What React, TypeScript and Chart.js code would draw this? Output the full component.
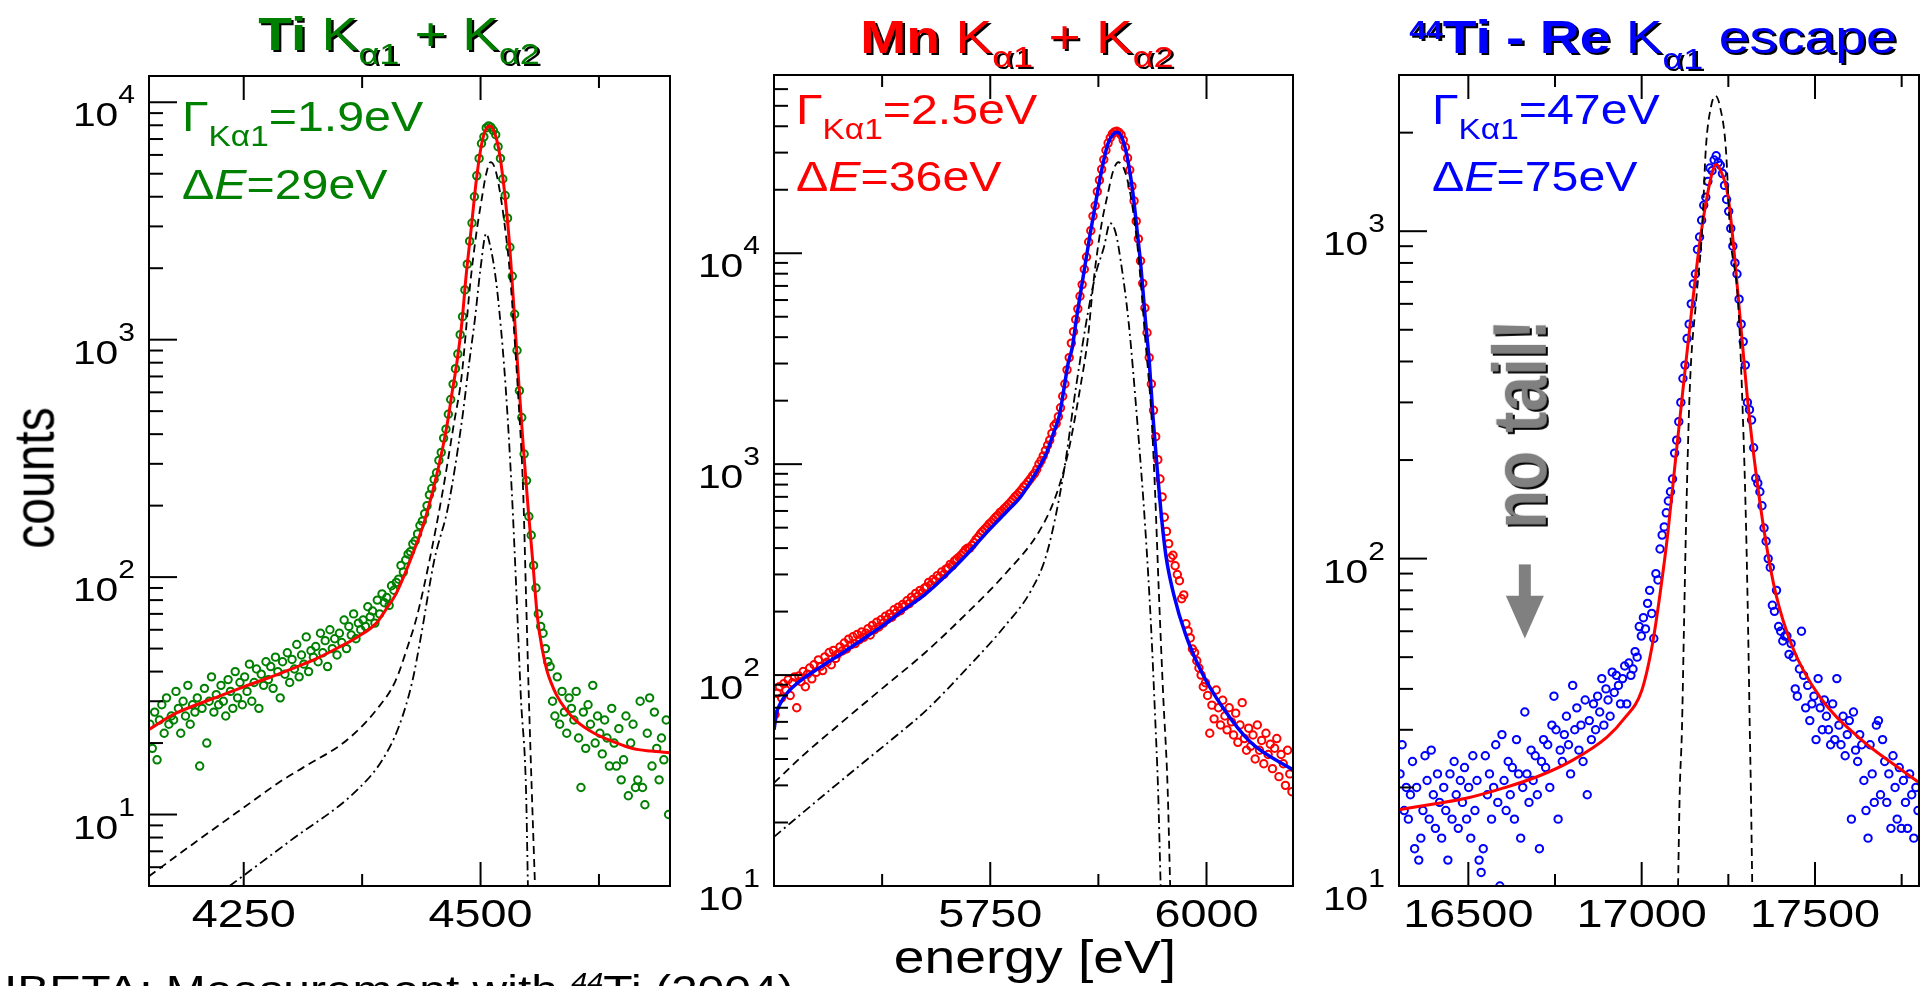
import React, { useEffect, useRef } from 'react';
import { Chart, registerables } from 'chart.js';

Chart.register(...registerables);

const PAGE_W = 1927;
const PAGE_H = 986;
const FONT = '"Liberation Sans", Arial, Helvetica, sans-serif';
const SX = 1.2; // the original figure is horizontally stretched

const TI_COLOR = 'rgb(0,128,0)';
const MN_COLOR = '#ff0000';
const RE_COLOR = '#0000ff';

// ---------------- Panel 1 : Ti K-alpha ----------------
const TI_BIN_START = 4151;
const TI_BIN_WIDTH = 2.5;
const TI_COUNTS = [
  24, 19, 27, 17, 25, 29, 22, 31, 24, 26,
  25, 33, 28, 22, 30, 26, 35, 24, 29, 27,
  31, 16, 28, 34, 20, 30, 38, 27, 32, 29,
  35, 30, 26, 37, 33, 28, 40, 31, 36, 29,
  38, 33, 43, 30, 36, 41, 28, 39, 35, 44,
  37, 42, 34, 46, 40, 31, 44, 39, 48, 36,
  45, 41, 52, 38, 47, 43, 56, 40, 49, 46,
  51, 44, 58, 48, 54, 42, 60, 50, 55, 47,
  58, 53, 66, 50, 62, 57, 70, 55, 64, 60,
  66, 62, 75, 68, 72, 64, 80, 70, 85, 78,
  82, 76, 92, 88, 95, 98, 112, 105, 118, 125,
  128, 138, 142, 152, 165, 172, 185, 200, 222, 236,
  258, 275, 310, 335, 385, 420, 485, 560, 650, 755,
  870, 1050, 1250, 1620, 2080, 2600, 3100, 4000, 4900, 5800,
  6700, 7150, 7800, 7950, 7850, 7600, 7300, 6500, 5800, 4750,
  4050, 3250, 2450, 1850, 1280, 900, 610, 470, 330, 255,
  180, 150, 112, 90, 70, 62, 58, 50, 44, 42,
  30, 26, 38, 24, 33, 27, 22, 31, 28, 25,
  33, 21, 13, 27, 19, 29, 24, 35, 20, 26,
  22, 18, 25, 21, 16, 28, 20, 16, 23, 14,
  17, 26, 12, 20, 24, 13, 14, 30, 13, 11,
  22, 31, 16, 27, 19, 14, 21, 17, 25, 10,
];
const TI_FIT_E = [4150, 4175, 4200, 4225, 4250, 4275, 4300, 4325, 4350, 4370, 4390, 4400, 4410, 4420, 4430, 4440, 4450, 4460, 4465, 4470, 4475, 4480, 4485, 4490, 4495, 4500, 4505, 4510, 4515, 4520, 4525, 4530, 4535, 4540, 4545, 4550, 4555, 4560, 4565, 4570, 4575, 4580, 4590, 4600, 4620, 4640, 4660, 4680, 4700];
const TI_FIT = [22.8, 26.3, 29, 31.6, 34.5, 37.5, 41, 45, 50.5, 56, 64, 73, 84, 103, 130, 168, 234, 350, 446, 600, 800, 1150, 1900, 2900, 4500, 6300, 7600, 7950, 7400, 6100, 4300, 2700, 1400, 690, 360, 200, 118, 68, 50, 40.5, 35.5, 32, 27.7, 25, 22, 20.3, 19, 18.5, 18.2];
const TI_KA1_E = [4150, 4200, 4250, 4289, 4313, 4359, 4391, 4410, 4423, 4433, 4446, 4460, 4472, 4480, 4489, 4495, 4501, 4506, 4510.5, 4515, 4520, 4526.6, 4531, 4535, 4540, 4545, 4548, 4551, 4554, 4557.5];
const TI_KA1 = [5.5, 7.7, 10.7, 13.8, 15.8, 20.6, 27.9, 36.4, 50.9, 68.7, 117, 229, 446, 700, 1705, 2700, 3860, 5000, 5600, 5300, 4300, 2800, 1900, 1150, 560, 229, 84, 31, 12.9, 5];
const TI_KA2_E = [4235, 4300, 4369, 4396, 4414, 4428, 4437, 4451, 4466, 4480, 4488, 4494, 4500, 4506, 4510, 4515, 4520, 4526.6, 4533, 4538, 4542.6, 4548, 4550];
const TI_KA2 = [5, 7.8, 12.6, 16.9, 23.6, 36.4, 56, 117, 200, 446, 800, 1216, 2000, 2800, 2500, 1945, 1300, 624, 229, 84, 31, 12.7, 5];
const TI_X_LABELS = [4250, 4500];
const TI_X_MINOR = [4375, 4625];
const TI_Y_DECADES = [10, 100, 1000, 10000];

// ---------------- Panel 2 : Mn K-alpha ----------------
const MN_BIN_START = 5501.25;
const MN_BIN_WIDTH = 2.5;
const MN_COUNTS = [
  65, 82, 88, 78, 91, 85, 95, 80, 92, 98,
  70, 99, 93, 104, 88, 101, 108, 96, 112, 103,
  118, 110, 105, 122, 115, 128, 112, 131, 120, 126,
  136, 130, 142, 133, 148, 139, 152, 141, 156, 147,
  160, 151, 158, 166, 155, 172, 164, 178, 169, 183,
  176, 190, 184, 195, 188, 204, 197, 210, 202, 216,
  212, 225, 218, 234, 228, 244, 236, 252, 245, 258,
  262, 275, 268, 284, 279, 296, 290, 308, 300, 318,
  322, 335, 330, 348, 355, 362, 370, 380, 392, 400,
  400, 412, 425, 440, 452, 468, 480, 492, 505, 520,
  530, 545, 560, 572, 590, 600, 615, 630, 645, 662,
  680, 700, 715, 735, 755, 780, 800, 825, 850, 880,
  905, 945, 1000, 1040, 1095, 1160, 1230, 1300, 1400, 1520,
  1560, 1680, 1850, 2100, 2400, 2800, 3200, 3750, 4250, 4850,
  5450, 6250, 7100, 8400, 9600, 11300, 12800, 15000, 16800, 19600,
  22200, 25000, 27800, 30800, 33300, 35300, 36800, 37600, 37900, 37400,
  36400, 34400, 31800, 28300, 24800, 20800, 17700, 14200, 11700, 9200,
  7200, 5500, 4200, 3200, 2400, 1800, 1350, 1050, 850, 700,
  560, 480, 420, 360, 370, 330, 300, 280, 230, 240,
  175, 162, 150, 133, 128, 117, 108, 100, 88, 92,
  80, 53, 72, 62, 85, 70, 58, 76, 64, 55,
  70, 60, 52, 66, 48, 58, 74, 50, 44, 56,
  46, 52, 40, 58, 44, 49, 38, 53, 42, 47,
  36, 45, 50, 33, 42, 38, 30, 44, 34, 28,
];
const MN_FIT_E = [5500, 5503, 5507, 5515, 5532, 5555, 5580, 5605, 5627, 5650, 5675, 5700, 5721, 5745, 5768, 5785, 5797, 5807, 5815, 5823, 5830, 5835, 5840, 5845, 5849, 5858, 5865, 5872, 5879, 5886, 5893, 5897, 5902, 5908, 5915, 5920, 5924, 5929, 5934, 5938, 5943, 5948, 5953, 5962, 5976, 5995, 6019, 6051, 6100];
const MN_FIT = [55, 66, 73, 82, 95, 110, 128, 150, 173, 204, 242, 300, 366, 470, 590, 700, 830, 975, 1127, 1400, 1706, 2250, 3000, 3600, 4700, 8000, 12000, 17500, 25000, 33000, 37000, 37500, 35500, 29000, 19200, 12500, 8800, 5000, 3000, 1700, 950, 560, 370, 242, 155, 102, 70, 48, 35.5];
const MN_KA1_E = [5500, 5533, 5580, 5627, 5675, 5721, 5768, 5806, 5825, 5839, 5854, 5863, 5868, 5872, 5879, 5886, 5892, 5898, 5904, 5910, 5915, 5920, 5925, 5929, 5933, 5936, 5940.5, 5945, 5950, 5955, 5958];
const MN_KA1 = [30.8, 41.4, 60.5, 87.7, 128, 193, 304, 476, 692, 1086, 2300, 4000, 6500, 9000, 14000, 19200, 24500, 27000, 25500, 21000, 16000, 11000, 6500, 4000, 2600, 1800, 746, 242, 79, 29.5, 10];
const MN_KA2_E = [5500, 5560, 5600, 5640, 5675, 5721.5, 5768, 5797, 5815.6, 5834.7, 5849, 5863, 5872, 5881.5, 5888.5, 5895, 5900.7, 5910, 5920, 5929, 5936, 5940.5, 5944, 5947];
const MN_KA2 = [17.1, 27.5, 37.5, 51, 67.5, 106, 173, 251, 380, 900, 2300, 5250, 8000, 10700, 13900, 12500, 9270, 4700, 1585, 514, 167, 65, 28.8, 10];
const MN_X_LABELS = [5750, 6000];
const MN_X_MINOR = [5625, 5875];
const MN_Y_DECADES = [10, 100, 1000, 10000];

// ---------------- Panel 3 : 44Ti - Re K-alpha1 escape ----------------
const RE_BIN_START = 16303;
const RE_BIN_WIDTH = 6;
const RE_COUNTS = [
  22, 27, 17, 20, 16, 19, 24, 13, 20, 12,
  14, 17, 25, 21, 16, 26, 19, 15, 22, 18,
  14, 20, 17, 12, 22, 16, 24, 19, 15, 21,
  18, 23, 16, 20, 14, 25, 17, 21, 12, 11,
  13, 25, 19, 22, 16, 20, 27, 18, 10, 29,
  21, 17, 24, 19, 23, 16, 28, 22, 14, 20,
  34, 22, 18, 26, 21, 25, 19, 13, 24, 28,
  23, 27, 20, 31, 38, 30, 16, 26, 24, 29,
  33, 27, 22, 41, 30, 35, 26, 31, 24, 37,
  19, 32, 28, 36, 30, 38, 34, 43, 31, 40,
  37, 33, 45, 39, 44, 41, 36, 43, 47, 36,
  48, 44, 46, 52, 50, 62, 58, 66, 61, 73,
  80, 68, 57, 90, 86, 107, 118, 125, 138, 150,
  160, 175, 210, 230, 262, 300, 355, 390, 470, 520,
  600, 690, 740, 880, 960, 1080, 1200, 1270, 1420, 1560,
  1530, 1650, 1700, 1620, 1590, 1500, 1380, 1250, 1150, 1020,
  900, 800, 740, 620, 520, 460, 390, 300, 285, 265,
  218, 176, 170, 160, 145, 124, 113, 100, 94, 72,
  69, 80, 62, 60, 56, 58, 58, 51, 55, 50,
  40, 38, 46, 60, 44, 35, 41, 32, 36, 38,
  28, 43, 35, 30, 37, 33, 30, 27, 36, 28,
  43, 31, 27, 33, 25, 29, 32, 16, 34, 26,
  24, 29, 27, 21, 17, 14, 27, 22, 18, 31,
  32, 19, 28, 24, 18, 22, 15, 25, 20, 16,
  23, 15, 21, 18, 15, 22, 19, 14, 20, 17,
];
const RE_FIT_E = [16300, 16400, 16500, 16600, 16700, 16800, 16900, 16950, 17000, 17030, 17053, 17076, 17099, 17122, 17145, 17168, 17190, 17205, 17215, 17228, 17249, 17266, 17284, 17307, 17330, 17358, 17387, 17434, 17514, 17630, 17745, 17800];
const RE_FIT = [17.1, 17.8, 18.6, 19.9, 21.6, 24.2, 28.5, 32.5, 39.5, 54, 78, 121, 207, 351, 583, 930, 1300, 1530, 1600, 1530, 1283, 881, 543, 295, 182, 113, 78, 54, 37.8, 28.2, 22.8, 20.7];
const RE_RESP_E = [17105, 17110, 17116, 17122, 17128, 17139, 17157, 17174, 17185, 17200, 17213, 17226, 17243, 17255, 17278, 17289, 17301, 17307, 17312, 17315, 17319];
const RE_RESP = [10, 19.8, 29.6, 61.5, 127, 334, 612, 993, 1780, 2400, 2590, 2400, 1780, 993, 612, 334, 127, 61.5, 29.6, 19.8, 10];
const RE_X_LABELS = [16500, 17000, 17500];
const RE_X_MINOR = [16750, 17250, 17750];
const RE_Y_DECADES = [10, 100, 1000];
// "no tail!" arrow, in data units (energy, counts)
const RE_ARROW = { e: 16663, from: 96, headStart: 77, to: 57 };

type LineSpec = { e: number[]; v: number[]; color: string; width: number; dash: number[] };
type Panel = {
  box: [number, number, number, number];
  xRange: [number, number];
  yRange: [number, number];
  binStart: number;
  binWidth: number;
  counts: number[];
  dataColor: string;
  lines: LineSpec[];
  xLabels: number[];
  xMinor: number[];
  decades: number[];
  arrow?: { e: number; from: number; headStart: number; to: number };
};

const DASH = [8, 5];
const DASHDOT = [9, 4, 2, 4];

const PANELS: Panel[] = [
  {
    box: [149, 76, 670, 886], xRange: [4150, 4700], yRange: [5, 12900],
    binStart: TI_BIN_START, binWidth: TI_BIN_WIDTH, counts: TI_COUNTS, dataColor: TI_COLOR,
    lines: [
      { e: TI_KA1_E, v: TI_KA1, color: '#000', width: 1.8, dash: DASH },
      { e: TI_KA2_E, v: TI_KA2, color: '#000', width: 1.8, dash: DASHDOT },
      { e: TI_FIT_E, v: TI_FIT, color: '#ff0000', width: 3, dash: [] },
    ],
    xLabels: TI_X_LABELS, xMinor: TI_X_MINOR, decades: TI_Y_DECADES,
  },
  {
    box: [774, 75, 1293, 886], xRange: [5500, 6100], yRange: [10, 70000],
    binStart: MN_BIN_START, binWidth: MN_BIN_WIDTH, counts: MN_COUNTS, dataColor: MN_COLOR,
    lines: [
      { e: MN_KA1_E, v: MN_KA1, color: '#000', width: 1.8, dash: DASH },
      { e: MN_KA2_E, v: MN_KA2, color: '#000', width: 1.8, dash: DASHDOT },
      { e: MN_FIT_E, v: MN_FIT, color: '#0000ff', width: 3.5, dash: [] },
    ],
    xLabels: MN_X_LABELS, xMinor: MN_X_MINOR, decades: MN_Y_DECADES,
  },
  {
    box: [1399, 75, 1919, 886], xRange: [16300, 17800], yRange: [10, 3000],
    binStart: RE_BIN_START, binWidth: RE_BIN_WIDTH, counts: RE_COUNTS, dataColor: RE_COLOR,
    lines: [
      { e: RE_RESP_E, v: RE_RESP, color: '#000', width: 1.8, dash: DASH },
      { e: RE_FIT_E, v: RE_FIT, color: '#ff0000', width: 3, dash: [] },
    ],
    xLabels: RE_X_LABELS, xMinor: RE_X_MINOR, decades: RE_Y_DECADES, arrow: RE_ARROW,
  },
];

function drawStretched(ctx: CanvasRenderingContext2D, txt: string, x: number, y: number, size: number, align: CanvasTextAlign) {
  ctx.save();
  ctx.translate(x, y);
  ctx.scale(SX, 1);
  ctx.font = `${size}px ${FONT}`;
  ctx.textAlign = align;
  ctx.textBaseline = 'alphabetic';
  ctx.fillText(txt, 0, 0);
  ctx.restore();
}

function axesPlugin(p: Panel) {
  return {
    id: 'frameAndTicks',
    afterDatasetsDraw(chart: any) {
      const ctx: CanvasRenderingContext2D = chart.ctx;
      const a = chart.chartArea;
      const xs = chart.scales.x;
      const ys = chart.scales.y;
      ctx.save();
      if (p.arrow) {
        const ax = xs.getPixelForValue(p.arrow.e);
        const y0 = ys.getPixelForValue(p.arrow.from);
        const yh = ys.getPixelForValue(p.arrow.headStart);
        const yt = ys.getPixelForValue(p.arrow.to);
        ctx.fillStyle = '#808080';
        ctx.fillRect(ax - 6, y0, 12, yh - y0 + 1);
        ctx.beginPath();
        ctx.moveTo(ax - 19, yh);
        ctx.lineTo(ax + 19, yh);
        ctx.lineTo(ax, yt);
        ctx.closePath();
        ctx.fill();
      }
      ctx.strokeStyle = '#000';
      ctx.lineWidth = 2;
      ctx.strokeRect(a.left, a.top, a.right - a.left, a.bottom - a.top);
      const seg = (x1: number, y1: number, x2: number, y2: number) => {
        ctx.beginPath(); ctx.moveTo(x1, y1); ctx.lineTo(x2, y2); ctx.stroke();
      };
      for (const v of p.xLabels) {
        const px = xs.getPixelForValue(v);
        seg(px, a.bottom, px, a.bottom - 24);
        seg(px, a.top, px, a.top + 24);
      }
      for (const v of p.xMinor) {
        const px = xs.getPixelForValue(v);
        seg(px, a.bottom, px, a.bottom - 12);
        seg(px, a.top, px, a.top + 12);
      }
      const [ymin, ymax] = p.yRange;
      for (const d of p.decades) {
        const py = ys.getPixelForValue(d);
        seg(a.left, py, a.left + 28, py);
      }
      const allDecades = [p.decades[0] / 10, ...p.decades];
      for (const d of allDecades) {
        for (let k = 2; k <= 9; k++) {
          const v = k * d;
          if (v > ymin * 1.001 && v < ymax * 0.999) {
            const py = ys.getPixelForValue(v);
            seg(a.left, py, a.left + 14, py);
          }
        }
      }
      ctx.fillStyle = '#000';
      for (const v of p.xLabels) {
        drawStretched(ctx, String(v), xs.getPixelForValue(v), a.bottom + 41, 39, 'center');
      }
      for (const d of p.decades) {
        const py = ys.getPixelForValue(d);
        const exp = String(Math.round(Math.log10(d)));
        ctx.font = `25px ${FONT}`;
        const wExp = ctx.measureText(exp).width * SX;
        const right = a.left - 14;
        drawStretched(ctx, exp, right, py + 1, 25, 'right');
        drawStretched(ctx, '10', right - wExp, py + 24, 34, 'right');
      }
      ctx.restore();
    },
  };
}

function buildChart(canvas: HTMLCanvasElement, p: Panel) {
  const datasets: any[] = [];
  p.lines.forEach((l, i) => {
    datasets.push({
      data: l.e.map((e, j) => ({ x: e, y: l.v[j] })),
      showLine: true,
      borderColor: l.color,
      borderWidth: l.width,
      borderDash: l.dash,
      pointRadius: 0,
      cubicInterpolationMode: 'monotone',
      order: 1 + i,
    });
  });
  datasets.push({
    data: p.counts.map((c, i) => ({ x: p.binStart + i * p.binWidth, y: c })),
    showLine: false,
    pointStyle: 'circle',
    pointRadius: 3.7,
    pointBorderWidth: 2,
    pointBorderColor: p.dataColor,
    pointBackgroundColor: 'rgba(0,0,0,0)',
    order: 20,
  });
  return new Chart(canvas, {
    type: 'scatter',
    data: { datasets },
    options: {
      responsive: false,
      animation: false,
      devicePixelRatio: 1,
      events: [],
      layout: { padding: { left: p.box[0], top: p.box[1], right: PAGE_W - p.box[2], bottom: PAGE_H - p.box[3] } },
      plugins: { legend: { display: false }, tooltip: { enabled: false }, title: { display: false } },
      scales: {
        x: { type: 'linear', min: p.xRange[0], max: p.xRange[1], display: false },
        y: { type: 'logarithmic', min: p.yRange[0], max: p.yRange[1], display: false },
      },
    } as any,
    plugins: [axesPlugin(p) as any],
  });
}

const Sub = ({ size, dy, children }: { size: number; dy: number; children: React.ReactNode }) => (
  <span style={{ fontSize: size, verticalAlign: `${dy}px`, lineHeight: 0 }}>{children}</span>
);

function Label(props: {
  x: number; baseline: number; size: number; color: string; align?: 'left' | 'center';
  bold?: boolean; shadow?: string; sx?: number; children: React.ReactNode;
}) {
  const { x, baseline, size, color, align = 'left', bold, shadow, sx = SX, children } = props;
  const style: React.CSSProperties = {
    position: 'absolute',
    left: x,
    top: baseline - 0.8465 * size,
    fontSize: size,
    lineHeight: `${size}px`,
    color,
    whiteSpace: 'nowrap',
    fontFamily: FONT,
    fontWeight: bold ? 'bold' : 'normal',
    transformOrigin: align === 'center' ? '50% 50%' : '0 50%',
    transform: align === 'center' ? `translateX(-50%) scaleX(${sx})` : `scaleX(${sx})`,
    textShadow: shadow,
  };
  return <div style={style}>{children}</div>;
}

function Rotated(props: { cx: number; cy: number; size: number; color: string; bold?: boolean; shadow?: string; children: React.ReactNode }) {
  const { cx, cy, size, color, bold, shadow, children } = props;
  return (
    <div
      style={{
        position: 'absolute', left: cx, top: cy, fontSize: size, lineHeight: `${size}px`, color,
        fontFamily: FONT, fontWeight: bold ? 'bold' : 'normal', whiteSpace: 'nowrap',
        transformOrigin: '50% 50%', transform: `translate(-50%, -50%) rotate(-90deg) scaleY(${SX})`,
        textShadow: shadow,
      }}
    >
      {children}
    </div>
  );
}

export default function App() {
  const r1 = useRef<HTMLCanvasElement>(null);
  const r2 = useRef<HTMLCanvasElement>(null);
  const r3 = useRef<HTMLCanvasElement>(null);

  useEffect(() => {
    const refs = [r1, r2, r3];
    const charts = PANELS.map((p, i) => buildChart(refs[i].current as HTMLCanvasElement, p));
    return () => charts.forEach((c) => c.destroy());
  }, []);

  const cstyle: React.CSSProperties = { position: 'absolute', left: 0, top: 0, width: PAGE_W, height: PAGE_H };
  const shadow = '2px 2px 0 #000';
  const ANN = 42;
  const ANN_SX = 1.15;

  return (
    <div style={{ position: 'fixed', left: 0, top: 0, width: PAGE_W, height: PAGE_H, overflow: 'hidden', background: '#fff', fontFamily: FONT }}>
      <canvas ref={r1} width={PAGE_W} height={PAGE_H} style={cstyle} />
      <canvas ref={r2} width={PAGE_W} height={PAGE_H} style={cstyle} />
      <canvas ref={r3} width={PAGE_W} height={PAGE_H} style={cstyle} />

      {/* titles */}
      <Label x={399} baseline={50} size={46} color={TI_COLOR} align="center" shadow={shadow}>
        <b>Ti</b> K<Sub size={30} dy={-14}>α1</Sub> + K<Sub size={30} dy={-14}>α2</Sub>
      </Label>
      <Label x={1017} baseline={53} size={46} color={MN_COLOR} align="center" shadow={shadow}>
        <b>Mn</b> K<Sub size={30} dy={-14}>α1</Sub> + K<Sub size={30} dy={-14}>α2</Sub>
      </Label>
      <Label x={1653} baseline={53} size={46} color={RE_COLOR} align="center" shadow={shadow}>
        <b><span style={{ fontSize: 25, verticalAlign: '14px', lineHeight: 0 }}>44</span>Ti - Re</b> K<Sub size={30} dy={-16}>α1</Sub> escape
      </Label>

      {/* annotations */}
      <Label x={182} baseline={132} size={ANN} sx={ANN_SX} color={TI_COLOR}>Γ<Sub size={29} dy={-15}>Kα1</Sub>=1.9eV</Label>
      <Label x={182} baseline={200} size={ANN} sx={ANN_SX} color={TI_COLOR}>Δ<i>E</i>=29eV</Label>
      <Label x={796} baseline={125} size={ANN} sx={ANN_SX} color={MN_COLOR}>Γ<Sub size={29} dy={-15}>Kα1</Sub>=2.5eV</Label>
      <Label x={796} baseline={192} size={ANN} sx={ANN_SX} color={MN_COLOR}>Δ<i>E</i>=36eV</Label>
      <Label x={1432} baseline={125} size={ANN} sx={ANN_SX} color={RE_COLOR}>Γ<Sub size={29} dy={-15}>Kα1</Sub>=47eV</Label>
      <Label x={1432} baseline={192} size={ANN} sx={ANN_SX} color={RE_COLOR}>Δ<i>E</i>=75eV</Label>

      {/* axis titles */}
      <Rotated cx={34} cy={478} size={48} color="#000">counts</Rotated>
      <Label x={1035} baseline={973} size={46} color="#000" align="center">energy [eV]</Label>
      <Rotated cx={1519} cy={424} size={64} color="#808080" bold shadow="-2px 2px 0 #000">no tail!</Rotated>

      <Label x={4} baseline={1004} size={40} color="#000">
        IBETA: Measurement with <span style={{ fontSize: 24, verticalAlign: '14px', lineHeight: 0, fontStyle: 'italic' }}>44</span>Ti (2004)
      </Label>
    </div>
  );
}
